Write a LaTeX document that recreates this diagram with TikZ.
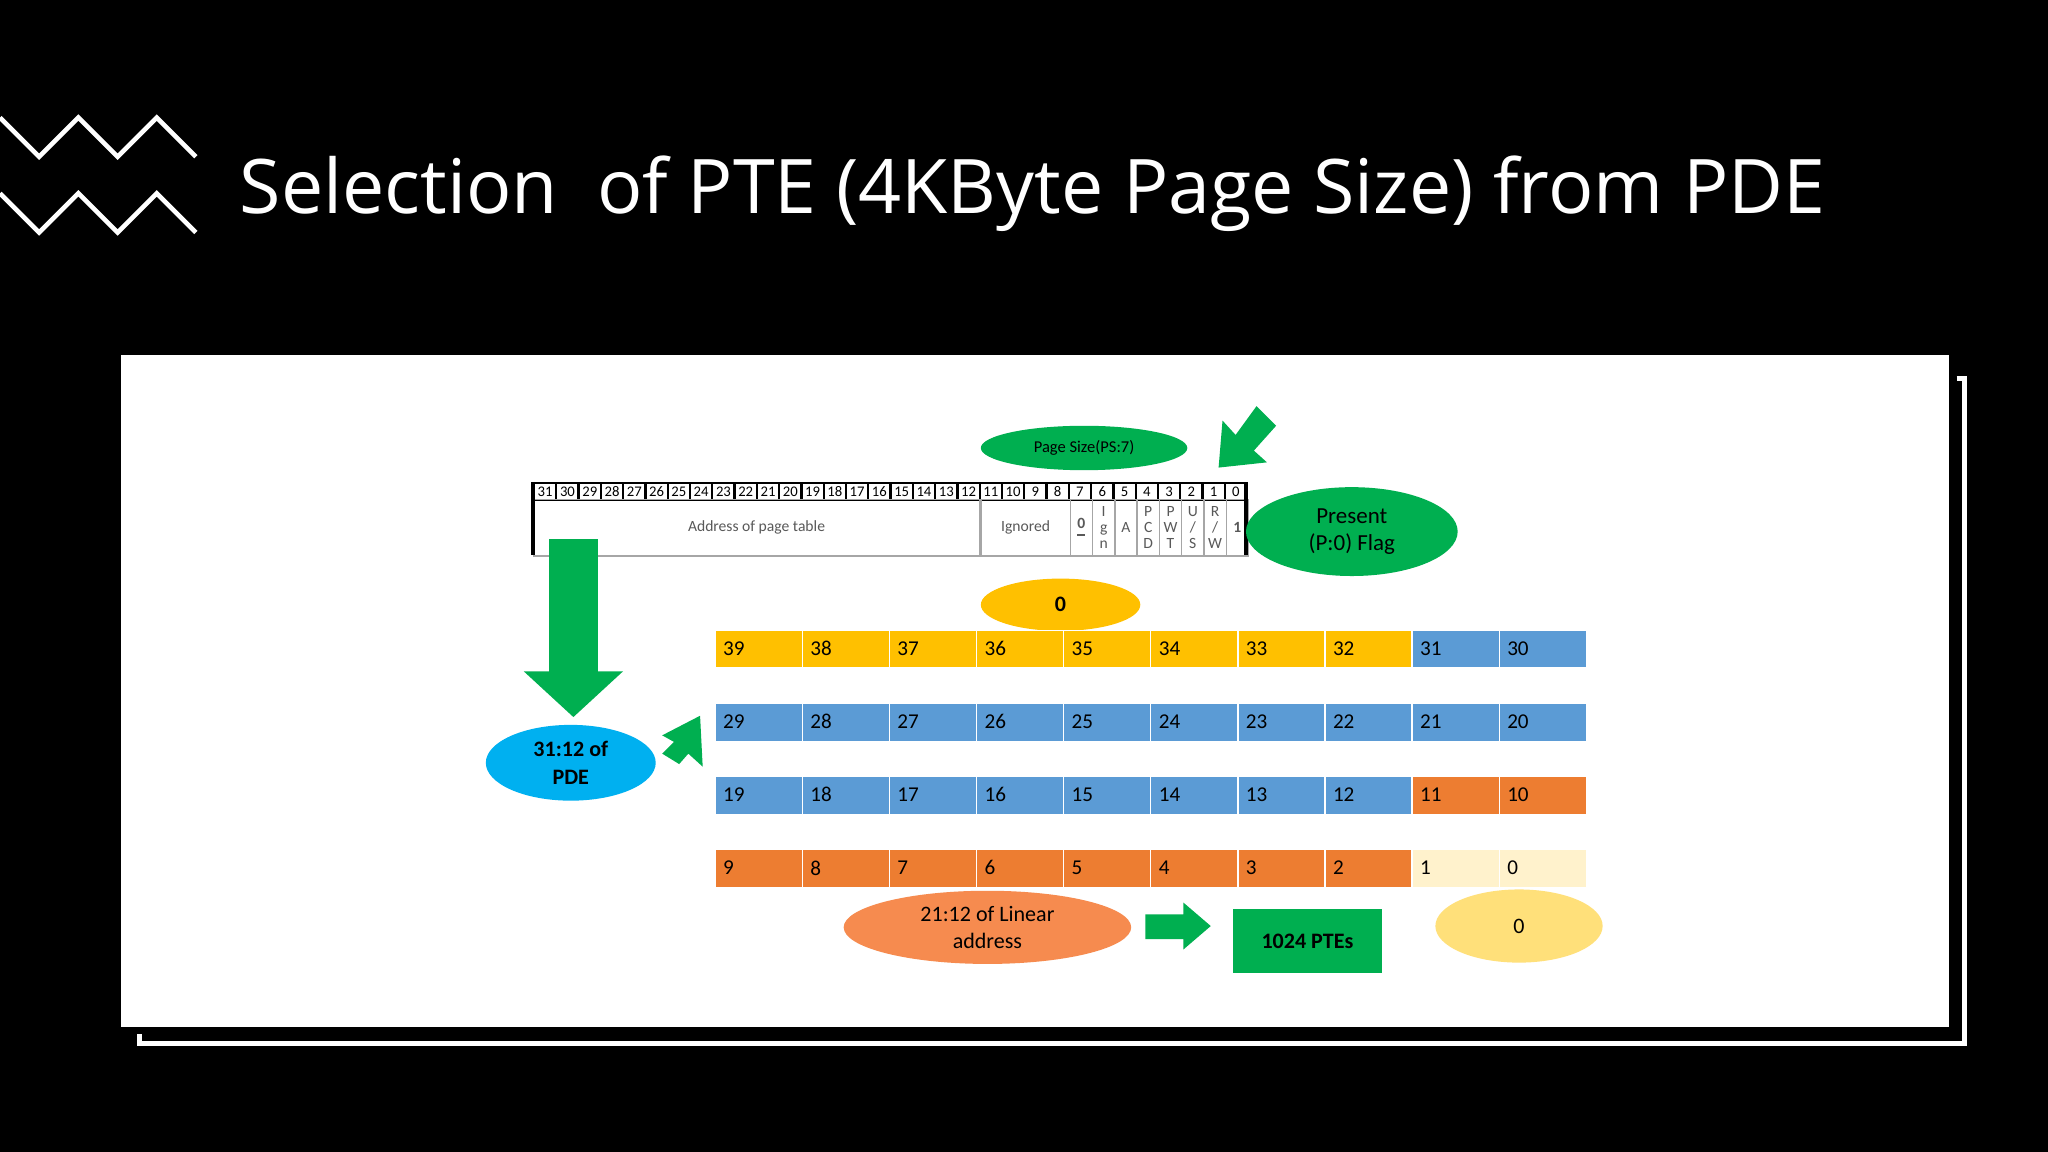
\documentclass[tikz,border=0pt]{standalone}
\usepackage{fontspec}
\setmainfont{Open Sans}
\newfontfamily\carl{Carlito}
\usetikzlibrary{shapes.geometric}
\definecolor{gr}{HTML}{00AF50}
\definecolor{yel}{HTML}{FFC000}
\definecolor{blu}{HTML}{5B9BD5}
\definecolor{ora}{HTML}{ED7D31}
\definecolor{lig}{HTML}{FFF2CC}
\definecolor{cya}{HTML}{00B0F0}
\definecolor{lora}{HTML}{F68B4F}
\definecolor{lyel}{HTML}{FFE07A}
\tikzset{
 ell/.style={ellipse, draw=none, inner sep=0pt, align=center, font=\carl},
 cellbox/.style={draw=white, line width=0.3pt, minimum width=0.667cm, minimum height=0.29cm, inner sep=0pt, anchor=north west},
 hdr/.style={draw=black, line width=0.5pt, minimum width=0.1706cm, minimum height=0.13cm, inner sep=0pt, anchor=north west, font=\carl\fontsize{3.2}{3.2}\selectfont},
 fld/.style={draw=gray!70, line width=0.3pt, minimum height=0.43cm, inner sep=0pt, anchor=north west, align=center, font=\carl\fontsize{3.4}{3.5}\selectfont, text=gray!70!black},
 zz/.style={white, line width=1pt},
}
\begin{document}
\begin{tikzpicture}[x=0.01cm,y=-0.01cm]
\useasboundingbox (0,0) rectangle (1568,882);
\fill[black] (0,0) rectangle (1568,882);
\draw[zz] (0,90) -- (30,120) -- (60,90) -- (90,120) -- (120,90) -- (150,120);
\draw[zz] (0,148) -- (30,178) -- (60,148) -- (90,178) -- (120,148) -- (150,178);
\node[anchor=west, text=white, font=\fontsize{16.4}{20}\selectfont, inner sep=0pt] (title) at (183,148) {Selection\ \ of PTE (4KByte Page Size) from PDE};
\draw[white, line width=1pt] (1498,290) -- (1504,290) -- (1504,799) -- (107,799) -- (107,792);
\fill[white] (93,272) rectangle (1492,786);
% register
\foreach \i in {0,...,31}{
 \pgfmathtruncatemacro{\b}{31-\i}
 \node[hdr] (h\b) at ({408+\i*17.06},369) {\b};
}
\node[fld, minimum width=3.412cm] (addr) at (408,382) {Address of page table};
\node[fld, minimum width=0.6824cm] (ign) at (750.6,382) {Ignored};
\foreach \t [count=\k from 0] in {\underline{\textbf{0}},{I\\g\\n},A,{P\\C\\D},{P\\W\\T},{U\\/\\S},{R\\/\\W},\textbf{1}}{
 \node[fld, minimum width=0.1706cm] (f\k) at ({818.9+\k*17.06},382) {\t};
}
\draw[black, line width=0.8pt] (408,369) -- (408,425) (954,369) -- (954,425);
\node[ell, fill=gr, minimum width=1.58cm, minimum height=0.34cm, font=\carl\fontsize{3.6}{4}\selectfont] (ps) at (830,343) {Page Size(PS:7)};
\fill[gr] (933,358) -- (936,322) -- (946,333) -- (962,311) -- (977,326) -- (960,345) -- (970,354) -- cycle;
\node[ell, fill=gr, minimum width=1.62cm, minimum height=0.68cm, font=\carl\fontsize{5}{6}\selectfont] (pres) at (1035,407) {Present\\(P:0) Flag};
\fill[gr] (420,413) rectangle (458,515);
\fill[gr] (401,514) -- (477,514) -- (439,549) -- cycle;
\node[ell, fill=cya, minimum width=1.3cm, minimum height=0.58cm, font=\carl\bfseries\fontsize{4.8}{6}\selectfont] (pde) at (437,584) {31:12 of\\PDE};
\fill[gr] (538,587) -- (536,548) -- (507,563) -- (516,568) -- (507,577) -- (520,585) -- (527,577) -- cycle;
\node[ell, fill=yel, minimum width=1.22cm, minimum height=0.4cm, font=\carl\bfseries\fontsize{4.8}{6}\selectfont] (z1) at (812,463) {0};
% rows
\foreach \r/\y in {0/482,1/538,2/594,3/650}{
 \foreach \c in {0,...,9}{
  \pgfmathtruncatemacro{\n}{39-\r*10-\c}
  \ifnum\n>31 \def\col{yel}\else\ifnum\n>11 \def\col{blu}\else\ifnum\n>1 \def\col{ora}\else\def\col{lig}\fi\fi\fi
  \node[cellbox, fill=\col] (c\n) at ({547+\c*66.7},\y) {};
  \node[anchor=west, inner sep=0pt, font=\carl\fontsize{4.6}{5}\selectfont] (t\n) at ({553+\c*66.7},{\y+14.5}) {\n};
 }
}
\node[ell, fill=lora, minimum width=2.2cm, minimum height=0.56cm, font=\carl\fontsize{4.8}{6}\selectfont] (lin) at (756,710) {21:12 of Linear\\address};
\fill[gr] (877,700) -- (906,700) -- (906,691) -- (927,709) -- (906,727) -- (906,719) -- (877,719) -- cycle;
\node[fill=gr, minimum width=1.14cm, minimum height=0.49cm, inner sep=0pt, font=\carl\bfseries\fontsize{4.8}{6}\selectfont] (pte) at (1001,720.5) {1024 PTEs};
\node[ell, fill=lyel, minimum width=1.28cm, minimum height=0.56cm, font=\carl\fontsize{4.8}{6}\selectfont] (z2) at (1163,709) {0};
\end{tikzpicture}
\end{document}
